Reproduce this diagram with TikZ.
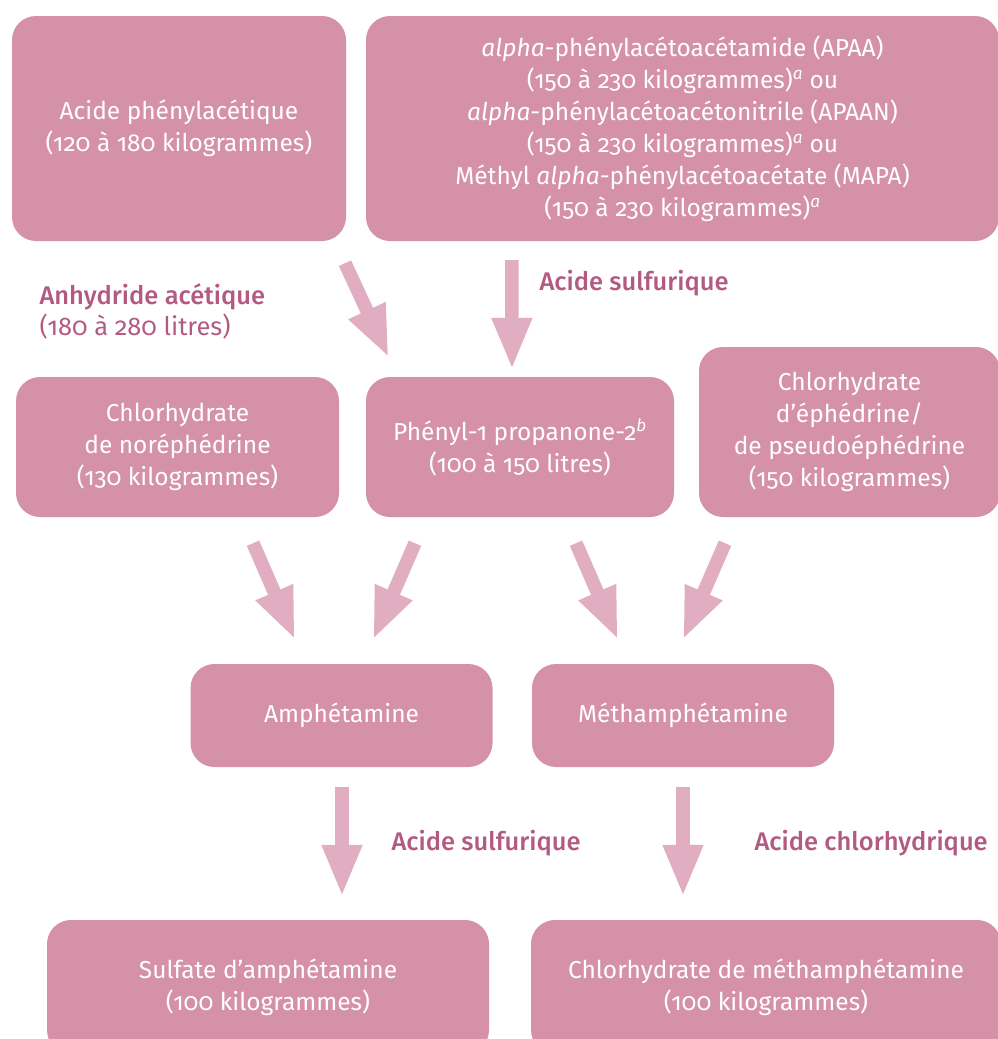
\documentclass[tikz,border=0pt]{standalone}
\usepackage{fontspec}
\setmainfont{Fira Sans Regular}[Numbers=OldStyle,ItalicFont={Fira Sans Italic}]
\newfontfamily\medfont{Fira Sans Medium}[Numbers=OldStyle]
\usepackage{tikz}
\usetikzlibrary{arrows.meta,positioning,calc}
\definecolor{boxpink}{HTML}{D591A8}
\definecolor{arrowpink}{HTML}{E0AEC0}
\definecolor{labelpink}{HTML}{B35A82}

\tikzset{
  stage/.style={fill=boxpink,rounded corners=24pt,text=white,align=center,
    inner sep=0pt,font=\fontsize{24.5}{32}\selectfont},
  flow/.style={arrowpink,line width=13.5pt,-{Triangle[length=52pt,width=37pt]}},
  reagent/.style={labelpink,anchor=west,align=left,font=\fontsize{25.5}{31}\selectfont}
}

\begin{document}
\begin{tikzpicture}[x=1pt,y=-1pt]
  \clip (0,0) rectangle (998,1039);
  % Precursors
  \node[stage,minimum width=334,minimum height=225] (acid) at (179,128.5)
    {Acide phénylacétique\\(120 à 180 kilogrammes)};
  \node[stage,minimum width=633,minimum height=225] (apaa) at (682.5,128.5)
    {\textit{alpha}-phénylacétoacétamide (APAA)\\
     (150 à 230 kilogrammes)\textsuperscript{\textit{a}} ou\\
     \textit{alpha}-phénylacétoacétonitrile (APAAN)\\
     (150 à 230 kilogrammes)\textsuperscript{\textit{a}} ou\\
     Méthyl \textit{alpha}-phénylacétoacétate (MAPA)\\
     (150 à 230 kilogrammes)\textsuperscript{\textit{a}}};

  % Intermediates
  \node[stage,minimum width=323,minimum height=140] (norephedrine) at (177.5,447)
    {Chlorhydrate\\de noréphédrine\\(130 kilogrammes)};
  \node[stage,minimum width=308,minimum height=140] (p2p) at (520,447)
    {Phényl-1 propanone-2\textsuperscript{\textit{b}}\\(100 à 150 litres)};
  \node[stage,minimum width=301,minimum height=170] (ephedrine) at (849.5,432)
    {Chlorhydrate\\d’éphédrine/\\de pseudoéphédrine\\(150 kilogrammes)};

  % Bases
  \node[stage,minimum width=302,minimum height=103] (amph) at (341.5,715.5) {Amphétamine};
  \node[stage,minimum width=302,minimum height=103] (meth) at (683,715.5) {Méthamphétamine};

  % Salts
  \node[stage,minimum width=442,minimum height=134] (sulfate) at (268,987)
    {Sulfate d’amphétamine\\(100 kilogrammes)};
  \node[stage,minimum width=470,minimum height=134] (hcl) at (766,987)
    {Chlorhydrate de méthamphétamine\\(100 kilogrammes)};

  % Reagents
  \node[reagent] (anhydride) at (36,311)
    {{\medfont Anhydride acétique}\\(180 à 280 litres)};
  \node[reagent,font=\medfont\fontsize{25.5}{31}\selectfont] (sulf1) at (536,283) {Acide sulfurique};
  \node[reagent,font=\medfont\fontsize{25.5}{31}\selectfont] (sulf2) at (388,843) {Acide sulfurique};
  \node[reagent,font=\medfont\fontsize{25.5}{31}\selectfont] (chlor) at (751,843) {Acide chlorhydrique};

  % Arrows
  \draw[flow] ($(acid.south)+(166,22)$) -- ($(p2p.north west)+(23,-19)$);
  \draw[flow] ($(apaa.south west)+(146,19)$) -- ($(p2p.north)+(-8,-7)$);
  \draw[flow] ($(norephedrine.south)+(75.5,26)$) -- ($(amph.north)+(-46.5,-24)$);
  \draw[flow] ($(p2p.south)+(-105,26)$) -- ($(amph.north)+(31.5,-24)$);
  \draw[flow] ($(p2p.south)+(56,26)$) -- ($(meth.north)+(-65,-24)$);
  \draw[flow] ($(ephedrine.south)+(-124.5,26)$) -- ($(meth.north)+(0,-24)$);
  \draw[flow] ($(amph.south)+(0.5,20)$) -- ($(amph.south |- sulfate.north)+(0.5,-23)$);
  \draw[flow] ($(meth.south)+(0,20)$) -- ($(meth.south |- hcl.north)+(0,-23)$);
\end{tikzpicture}
\end{document}
